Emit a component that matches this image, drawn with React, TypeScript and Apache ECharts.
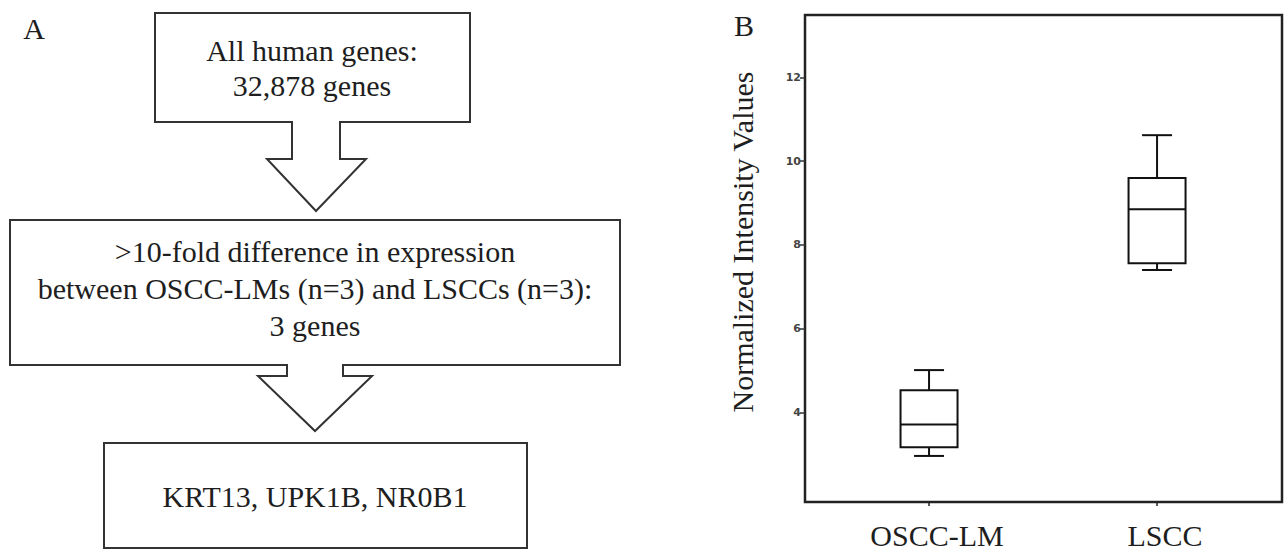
import React, { useEffect, useRef } from "react";
import * as echarts from "echarts";

// ---- Data ----
const categories = ["OSCC-LM", "LSCC"];
// [min, Q1, median, Q3, max]
const osccStats = [2.96, 3.17, 3.71, 4.53, 5.01];
const lsccStats = [7.4, 7.56, 8.85, 9.6, 10.62];
const yTicks = [4, 6, 8, 10, 12];
const xTicks = [0, 1];
const yAxisTitle = "Normalized Intensity Values";

const box1Text = ["All human genes:", "32,878 genes"];
const box2Text = [
  ">10-fold difference in expression",
  "between OSCC-LMs (n=3) and LSCCs (n=3):",
  "3 genes",
];
const box3Text = ["KRT13, UPK1B, NR0B1"];

const SERIF = '"Liberation Serif", "Times New Roman", serif';
const INK = "#1e1e1e";

export default function App() {
  const ref = useRef<HTMLDivElement>(null);

  useEffect(() => {
    if (!ref.current) return;
    const chart = echarts.init(ref.current, undefined, { renderer: "svg" });

    const boxData = [osccStats, lsccStats].map((s, i) => [i, ...s]);

    const boxStroke = { stroke: "#333", lineWidth: 2, fill: "none" };
    const arrowOutline = { stroke: "#333", lineWidth: 2, fill: "none" };

    const textEl = (lines: string[], x: number, y: number, lh: number) => ({
      type: "text",
      x,
      y,
      style: {
        text: lines.join("\n"),
        fontFamily: SERIF,
        fontSize: 30,
        lineHeight: lh,
        fill: INK,
        textAlign: "center",
        textVerticalAlign: "middle",
      },
    });

    const option: any = {
      animation: false,
      backgroundColor: "#fff",
      grid: {
        left: 805,
        top: 15,
        width: 477,
        height: 487,
        show: true,
        borderColor: "#222",
        borderWidth: 2.5,
        backgroundColor: "transparent",
      },
      xAxis: {
        type: "value",
        min: -0.544,
        max: 1.548,
        splitLine: { show: false },
        axisLine: { show: false, onZero: false },
        axisTick: {
          show: true,
          customValues: xTicks,
          length: 4,
          lineStyle: { color: "#222", width: 1.5 },
        },
        axisLabel: {
          customValues: xTicks,
          formatter: (v: number) => categories[Math.round(v)] ?? "",
          fontFamily: SERIF,
          fontSize: 30,
          color: INK,
          margin: 18,
          padding: [0, 0, 0, 16],
        },
      },
      yAxis: {
        type: "value",
        min: 1.86,
        max: 13.49,
        splitLine: { show: false },
        axisLine: { show: false, onZero: false },
        axisTick: {
          show: true,
          customValues: yTicks,
          length: 5,
          lineStyle: { color: "#333", width: 1.5 },
        },
        axisLabel: {
          customValues: yTicks,
          fontFamily: '"DejaVu Sans", sans-serif',
          fontSize: 11,
          fontWeight: "bold",
          color: "#444",
          margin: 4,
        },
      },
      series: [
        {
          type: "custom",
          data: boxData,
          encode: { x: 0, y: [1, 2, 3, 4, 5] },
          clip: false,
          renderItem: (_params: any, api: any) => {
            const x = api.value(0);
            const pMin = api.coord([x, api.value(1)]);
            const pQ1 = api.coord([x, api.value(2)]);
            const pMed = api.coord([x, api.value(3)]);
            const pQ3 = api.coord([x, api.value(4)]);
            const pMax = api.coord([x, api.value(5)]);
            const cx = pMin[0];
            const bw = 57;
            const cw = 30;
            const st = { stroke: "#111", lineWidth: 2, fill: "none" };
            return {
              type: "group",
              children: [
                {
                  type: "rect",
                  shape: { x: cx - bw / 2, y: pQ3[1], width: bw, height: pQ1[1] - pQ3[1] },
                  style: { ...st, fill: "#fff" },
                },
                { type: "line", shape: { x1: cx - bw / 2, y1: pMed[1], x2: cx + bw / 2, y2: pMed[1] }, style: st },
                { type: "line", shape: { x1: cx, y1: pQ3[1], x2: cx, y2: pMax[1] }, style: st },
                { type: "line", shape: { x1: cx, y1: pQ1[1], x2: cx, y2: pMin[1] }, style: st },
                { type: "line", shape: { x1: cx - cw / 2, y1: pMax[1], x2: cx + cw / 2, y2: pMax[1] }, style: st },
                { type: "line", shape: { x1: cx - cw / 2, y1: pMin[1], x2: cx + cw / 2, y2: pMin[1] }, style: st },
              ],
            };
          },
        },
      ],
      graphic: [
        // panel labels
        { type: "text", x: 34, y: 28, style: { text: "A", fontFamily: SERIF, fontSize: 30, fill: INK, textAlign: "center", textVerticalAlign: "middle" } },
        { type: "text", x: 744, y: 25, style: { text: "B", fontFamily: SERIF, fontSize: 30, fill: INK, textAlign: "center", textVerticalAlign: "middle" } },
        // y axis title
        {
          type: "text",
          x: 742,
          y: 242,
          rotation: Math.PI / 2,
          style: { text: yAxisTitle, fontFamily: SERIF, fontSize: 30, fill: INK, textAlign: "center", textVerticalAlign: "middle" },
        },
        // flowchart boxes
        { type: "rect", shape: { x: 155, y: 13, width: 315, height: 109 }, style: boxStroke },
        { type: "rect", shape: { x: 10, y: 220, width: 610, height: 145 }, style: boxStroke },
        { type: "rect", shape: { x: 104, y: 443, width: 423, height: 105 }, style: boxStroke },
        // arrow 1: cover gap + outline
        { type: "polygon", shape: { points: [[293, 119], [293, 160], [270, 160], [316, 209], [363, 160], [339, 160], [339, 119]] }, style: { fill: "#fff", stroke: "none" } },
        { type: "polyline", shape: { points: [[292, 122], [292, 159], [267, 159], [316, 211], [366, 159], [340, 159], [340, 122]] }, style: arrowOutline },
        // arrow 2
        { type: "polygon", shape: { points: [[288, 362], [288, 377], [261, 377], [315, 429], [369, 377], [342, 377], [342, 362]] }, style: { fill: "#fff", stroke: "none" } },
        { type: "polyline", shape: { points: [[287, 365], [287, 376], [258, 376], [315, 431], [372, 376], [343, 376], [343, 365]] }, style: arrowOutline },
        // texts
        textEl(box1Text, 312, 68, 35),
        textEl(box2Text, 315, 288, 37),
        textEl(box3Text, 315, 496, 36),
      ],
    };

    chart.setOption(option);
    return () => chart.dispose();
  }, []);

  return (
    <div
      ref={ref}
      style={{ position: "absolute", left: 0, top: 0, width: 1287, height: 550 }}
    />
  );
}
